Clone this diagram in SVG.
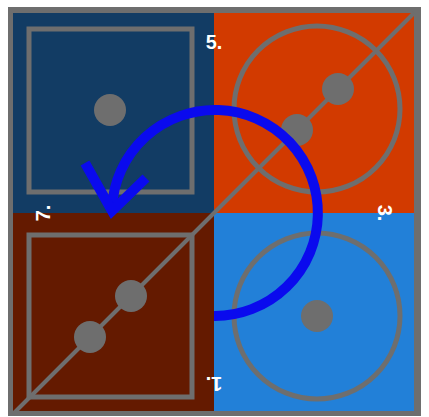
<svg xmlns="http://www.w3.org/2000/svg" width="429" height="417" viewBox="0 0 429 417">
<style>
.g{fill:none;stroke:#6e6e6e;stroke-width:5}
.d{fill:#6e6e6e}
.lbl{font-family:"Liberation Sans",Arial,sans-serif;font-weight:bold;font-size:20px;fill:#ffffff;text-anchor:middle}
.arc{fill:none;stroke:#0a0aee;stroke-width:10}
</style>
<rect x="0" y="0" width="429" height="417" fill="#ffffff"/>
<g id="frame">
<rect x="8" y="7" width="413" height="409" fill="#6e6e6e"/>
</g>
<g id="q-tl">
<rect x="13" y="13" width="201" height="200" fill="#123c64"/>
<rect class="g" x="29" y="29" width="163" height="163"/>
<circle class="d" cx="110" cy="110" r="16"/>
</g>
<g id="q-tr">
<rect x="214" y="13" width="200" height="200" fill="#d23a00"/>
<circle class="g" cx="317" cy="109" r="83"/>
</g>
<g id="q-bl">
<rect x="13" y="213" width="201" height="198" fill="#641a00"/>
<rect class="g" x="29" y="235" width="163" height="162"/>
</g>
<g id="q-br">
<rect x="214" y="213" width="200" height="198" fill="#2280d8"/>
<circle class="g" cx="317" cy="316" r="83"/>
<circle class="d" cx="317" cy="316" r="16"/>
</g>
<g id="diagonal">
<line x1="13" y1="414" x2="414" y2="13" stroke="#6e6e6e" stroke-width="4"/>
<circle class="d" cx="338" cy="89" r="16"/>
<circle class="d" cx="297" cy="130" r="16"/>
<circle class="d" cx="131" cy="296" r="16"/>
<circle class="d" cx="90" cy="337" r="16"/>
</g>
<g id="connectors">
<path class="arc" d="M214,316 A103,103 0 1 0 112,208"/>
<polyline class="arc" points="85,163 112,211 146,178" stroke-linejoin="miter"/>
</g>
<g id="labels">
<text class="lbl" x="214" y="49">5.</text>
<text class="lbl" x="214" y="49" transform="rotate(90 214 213)">3.</text>
<text class="lbl" x="214" y="49" transform="rotate(180 214 213)">1.</text>
<text class="lbl" x="214" y="49" transform="rotate(-90 214 213)">7.</text>
</g>
</svg>
